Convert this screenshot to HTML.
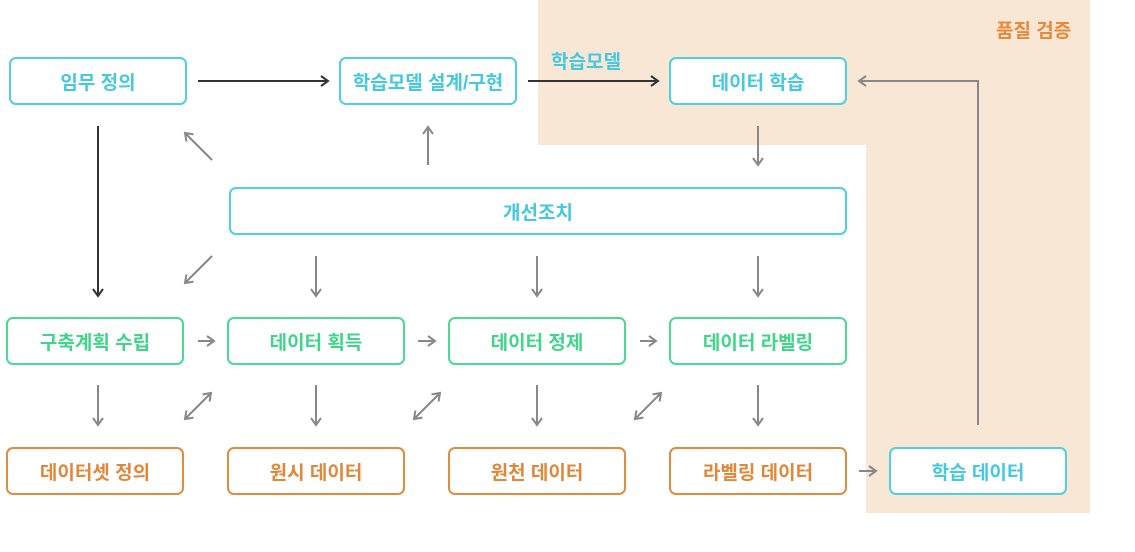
<!DOCTYPE html>
<html><head><meta charset="utf-8"><style>
body{margin:0;width:1135px;height:552px;background:#fff;position:relative;overflow:hidden;font-family:"Liberation Sans","Noto Sans CJK KR",sans-serif}
.b{position:absolute;width:174px;height:44px;border:2px solid;border-radius:7px;background:#fff;display:flex;align-items:center;justify-content:center;font-weight:bold;font-size:19px;box-sizing:content-box}
.c{border-color:#4fcfe0;color:#45c9de}
.g{border-color:#4cd991;color:#3fd68a}
.o{border-color:#e08c3e;color:#e0883a}
.t{position:absolute;font-weight:bold;font-size:19px}
svg{position:absolute;left:0;top:0}
</style></head><body>
<svg width="1135" height="552">
<polygon points="538,0 1090,0 1090,513 866,513 866,145 538,145" fill="#f9e7d6"/>
<defs>
<marker id="d" markerWidth="10" markerHeight="12" refX="8" refY="6" orient="auto" markerUnits="userSpaceOnUse"><path d="M1,1 L8,6 L1,11" fill="none" stroke="#333" stroke-width="2"/></marker>
<marker id="g" markerWidth="10" markerHeight="12" refX="8" refY="6" orient="auto" markerUnits="userSpaceOnUse"><path d="M1,1 L8,6 L1,11" fill="none" stroke="#888" stroke-width="2"/></marker>
<marker id="gs" markerWidth="10" markerHeight="12" refX="2" refY="6" orient="auto" markerUnits="userSpaceOnUse"><path d="M9,1 L2,6 L9,11" fill="none" stroke="#888" stroke-width="2"/></marker>
</defs>
<g stroke="#333" stroke-width="2" fill="none">
<line x1="198" y1="81" x2="328" y2="81" marker-end="url(#d)"/>
<line x1="528" y1="81" x2="658" y2="81" marker-end="url(#d)"/>
<line x1="98" y1="126" x2="98" y2="296" marker-end="url(#d)"/>
</g>
<g stroke="#888" stroke-width="2" fill="none">
<line x1="212" y1="160" x2="185" y2="133" marker-end="url(#g)"/>
<line x1="428" y1="165" x2="428" y2="127" marker-end="url(#g)"/>
<line x1="758" y1="126" x2="758" y2="165" marker-end="url(#g)"/>
<line x1="212" y1="256" x2="185" y2="283" marker-end="url(#g)"/>
<line x1="316" y1="256" x2="316" y2="296" marker-end="url(#g)"/>
<line x1="537" y1="256" x2="537" y2="296" marker-end="url(#g)"/>
<line x1="758" y1="256" x2="758" y2="296" marker-end="url(#g)"/>
<line x1="198" y1="341" x2="214" y2="341" marker-end="url(#g)"/>
<line x1="418" y1="341" x2="435" y2="341" marker-end="url(#g)"/>
<line x1="640" y1="341" x2="656" y2="341" marker-end="url(#g)"/>
<line x1="98" y1="385" x2="98" y2="425" marker-end="url(#g)"/>
<line x1="316" y1="385" x2="316" y2="425" marker-end="url(#g)"/>
<line x1="537" y1="385" x2="537" y2="425" marker-end="url(#g)"/>
<line x1="758" y1="385" x2="758" y2="425" marker-end="url(#g)"/>
<line x1="185" y1="419" x2="211" y2="393" marker-start="url(#gs)" marker-end="url(#g)"/>
<line x1="414" y1="419" x2="440" y2="393" marker-start="url(#gs)" marker-end="url(#g)"/>
<line x1="635" y1="419" x2="661" y2="393" marker-start="url(#gs)" marker-end="url(#g)"/>
<line x1="859" y1="471" x2="876" y2="471" marker-end="url(#g)"/>
<polyline points="978,425 978,81 859,81" marker-end="url(#g)"/>
</g>
</svg>
<div class="t" style="left:996px;top:16px;color:#e8893c">품질 검증</div>
<div class="t" style="left:551px;top:47px;color:#45c9de">학습모델</div>
<div class="b c" style="left:9px;top:57px">임무 정의</div>
<div class="b c" style="left:339px;top:57px">학습모델 설계/구현</div>
<div class="b c" style="left:669px;top:57px">데이터 학습</div>
<div class="b c" style="left:229px;top:187px;width:614px">개선조치</div>
<div class="b g" style="left:6px;top:317px">구축계획 수립</div>
<div class="b g" style="left:227px;top:317px">데이터 획득</div>
<div class="b g" style="left:448px;top:317px">데이터 정제</div>
<div class="b g" style="left:669px;top:317px">데이터 라벨링</div>
<div class="b o" style="left:6px;top:447px">데이터셋 정의</div>
<div class="b o" style="left:227px;top:447px">원시 데이터</div>
<div class="b o" style="left:448px;top:447px">원천 데이터</div>
<div class="b o" style="left:669px;top:447px">라벨링 데이터</div>
<div class="b c" style="left:889px;top:447px">학습 데이터</div>
</body></html>
